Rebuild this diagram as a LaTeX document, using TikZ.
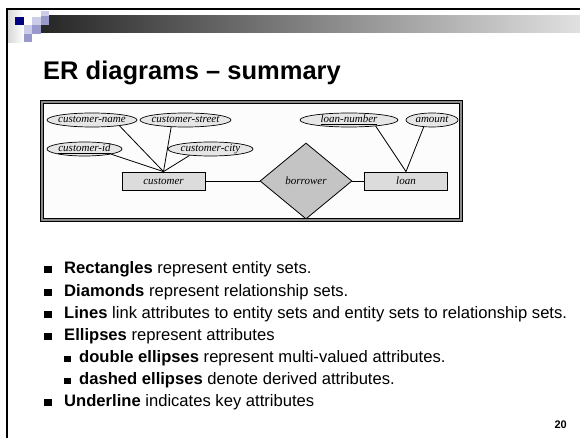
\documentclass[tikz,border=0pt]{standalone}
\usepackage{fontspec}
\newfontfamily\slidefont{Liberation Sans}
\newfontfamily\erfont{Liberation Serif}
\usetikzlibrary{shapes.geometric}

\definecolor{navysq}{HTML}{000080}
\definecolor{lavlight}{HTML}{CCCCE8}
\definecolor{lavmid}{HTML}{9999CC}
\definecolor{attrfill}{HTML}{E6E6E6}
\definecolor{entfill}{HTML}{DCDCDC}
\definecolor{relfill}{HTML}{C4C4C4}
\definecolor{framegray}{HTML}{8C8C8C}

% label whose box has no size, so the ellipse keeps its given width and height
\newcommand{\erlab}[1]{\makebox[0pt]{\raisebox{-3pt}[0pt][0pt]{#1}}}

\tikzset{
  erlabel/.style={font=\erfont\fontsize{11}{13}\selectfont\itshape},
  attr/.style={ellipse, draw, line width=0.7pt, fill=attrfill, inner sep=0pt,
    minimum height=14pt, erlabel},
  entity/.style={rectangle, draw, line width=0.8pt, fill=entfill, inner sep=0pt,
    minimum width=83pt, minimum height=18pt, erlabel},
  rel/.style={diamond, draw, line width=0.8pt, fill=relfill, inner sep=0pt,
    minimum width=92pt, minimum height=76pt, erlabel},
  link/.style={draw, line width=0.8pt},
  bullettext/.style={anchor=base west, inner sep=0pt,
    font=\slidefont\fontsize{16.6}{19}\selectfont},
  subtext/.style={anchor=base west, inner sep=0pt,
    font=\slidefont\fontsize{16.6}{19}\selectfont},
}

\begin{document}
\begin{tikzpicture}[x=1pt, y=-1pt]
  % page
  \fill[white] (0,0) rectangle (580,438);
  \useasboundingbox (0,0) rectangle (580,438);

  % slide header: rules, fading bar, square ornament
  \shade[left color=black!15, right color=white] (8,10) rectangle (24,43);
  \shade[left color=black!85, right color=black!12] (41,16) rectangle (580,33);
  \fill[black] (6,8) rectangle (580,10);
  \fill[black] (6,8) rectangle (8,438);
  \fill[navysq]   (15,17) rectangle (23.5,25.5);
  \fill[lavlight] (32,17) rectangle (41,25.5);
  \fill[lavlight] (41,11) rectangle (49,16);
  \fill[lavmid]   (41,16) rectangle (49,25.5);
  \fill[lavlight] (24,25.5) rectangle (32,34);
  \fill[lavmid]   (32,25.5) rectangle (41,34);
  \fill[lavmid]   (24,34) rectangle (32,42.5);

  % title
  \node[anchor=base west, inner sep=0pt,
        font=\slidefont\bfseries\fontsize{25.5}{30}\selectfont] (title) at (43,80)
        {ER diagrams – summary};

  % frame around the E-R diagram
  \fill[black]      (40,100) rectangle (463,222);
  \fill[framegray]  (41,101) rectangle (462,221);
  \fill[black]      (43,103) rectangle (460,219);
  \fill[white!99!black] (44.2,104.2) rectangle (458.8,217.8);

  % entity sets and relationship set
  \node[entity] (cust) at (163.5,181) {customer};
  \node[rel] (borrow) at (306,181) {borrower};
  \node[entity] (loan) at (406,181) {loan};

  % attributes
  \node[attr, minimum width=90pt] (cname)   at (92,120)    {\erlab{customer-name}};
  \node[attr, minimum width=91pt] (cstreet) at (185.5,120) {\erlab{customer-street}};
  \node[attr, minimum width=75pt] (cid)     at (84.5,149)  {\erlab{\underline{customer-id}}};
  \node[attr, minimum width=85pt] (ccity)   at (210.5,149) {\erlab{customer-city}};
  \node[attr, minimum width=98pt] (lnum)    at (349,120)   {\erlab{\underline{loan-number}}};
  \node[attr, minimum width=52pt] (amt)     at (432,120)   {\erlab{amount}};

  % connectors
  \path[link] (cname.-12)    -- (cust.north);
  \path[link] (cstreet.-154) -- (cust.north);
  \path[link] (cid.-11)      -- (cust.north);
  \path[link] (ccity.-163)   -- (cust.north);
  \path[link] (lnum.-13)     -- (loan.north);
  \path[link] (amt.-140)     -- (loan.north);
  \path[link] (cust.east)    -- (borrow.west);
  \path[link] (borrow.east)  -- (loan.west);

  % bullet list
  \fill (44,265.5) rectangle (51.5,273);
  \node[bullettext] (b1) at (64,273) {\textbf{Rectangles} represent entity sets.};
  \fill (44,288.5) rectangle (51.5,296);
  \node[bullettext] (b2) at (64,296) {\textbf{Diamonds} represent relationship sets.};
  \fill (44,310.5) rectangle (51.5,318);
  \node[bullettext] (b3) at (64,318) {\textbf{Lines} link attributes to entity sets and entity sets to relationship sets.};
  \fill (44,332.5) rectangle (51.5,340);
  \node[bullettext] (b4) at (64,340) {\textbf{Ellipses} represent attributes};
  \fill (64,355.5) rectangle (70.5,362);
  \node[subtext] (b5) at (79,362) {\textbf{double ellipses} represent multi-valued attributes.};
  \fill (64,377.5) rectangle (70.5,384);
  \node[subtext] (b6) at (79,384) {\textbf{dashed ellipses} denote derived attributes.};
  \fill (44,398.5) rectangle (51.5,406);
  \node[bullettext] (b7) at (64,406) {\textbf{Underline} indicates key attributes};

  % page number
  \node[anchor=base east, inner sep=0pt,
        font=\slidefont\bfseries\fontsize{11}{13}\selectfont] (pg) at (567,428) {20};
\end{tikzpicture}
\end{document}
